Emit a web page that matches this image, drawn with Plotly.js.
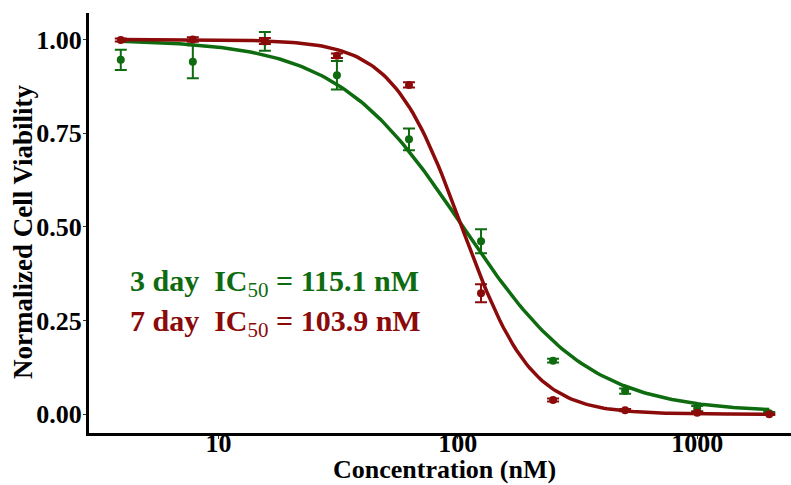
<!DOCTYPE html>
<html>
<head>
<meta charset="utf-8">
<script src="https://cdn.plot.ly/plotly-3.0.1.min.js"></script>
<style>html,body{margin:0;padding:0;background:#fff;}#chart{width:791px;height:485px;}</style>
</head>
<body>
<div id="chart"></div>
<script>
// Concentrations (nM)
const conc = [3.90625, 7.8125, 15.625, 31.25, 62.5, 125, 250, 500, 1000, 2000];
// 3 day
const day3Mean = [0.946, 0.941, 0.995, 0.905, 0.734, 0.462, 0.143, 0.062, 0.015, 0.003];
const day3Err  = [0.027, 0.044, 0.025, 0.038, 0.029, 0.032, 0.005, 0.007, 0.007, 0.003];
// 7 day
const day7Mean = [0.999, 1.000, 0.996, 0.957, 0.879, 0.323, 0.038, 0.011, 0.004, 0.000];
const day7Err  = [0.004, 0.006, 0.008, 0.006, 0.007, 0.024, 0.004, 0.003, 0.003, 0.002];
// fitted 4-parameter logistic parameters [top, bottom, EC50, hill]
const day3Fit = [1.0, 0.005, 104.5, 1.65];
const day7Fit = [1.0, 0.0, 103.9, 3.0];
const xTickVals = [10, 100, 1000];
const yTickVals = [0, 0.25, 0.5, 0.75, 1.0];
const yTickText = ['0.00', '0.25', '0.50', '0.75', '1.00'];
const xTitle = 'Concentration (nM)';
const yTitle = 'Normalized Cell Viability';
const label3 = '3 day\u00a0 IC<sub><span style="font-weight:normal">50</span></sub> = 115.1 nM';
const label7 = '7 day\u00a0 IC<sub><span style="font-weight:normal">50</span></sub> = 103.9 nM';

const GREEN = '#0f6b0f';
const RED = '#8b0a0a';

function curve(p) {
  const xs = [], ys = [];
  const lo = Math.log10(conc[0]), hi = Math.log10(conc[conc.length - 1]);
  for (let i = 0; i <= 200; i++) {
    const lx = lo + (hi - lo) * i / 200;
    const x = Math.pow(10, lx);
    xs.push(x);
    ys.push(p[1] + (p[0] - p[1]) / (1 + Math.pow(x / p[2], p[3])));
  }
  return {xs, ys};
}
const c3 = curve(day3Fit), c7 = curve(day7Fit);

const traces = [
  {x: c3.xs, y: c3.ys, mode: 'lines', line: {color: GREEN, width: 3.5}, hoverinfo: 'skip'},
  {x: c7.xs, y: c7.ys, mode: 'lines', line: {color: RED, width: 3.5}, hoverinfo: 'skip'},
  {x: conc, y: day3Mean, mode: 'markers', marker: {color: GREEN, size: 8},
   error_y: {type: 'data', array: day3Err, visible: true, color: GREEN, thickness: 2, width: 6}},
  {x: conc, y: day7Mean, mode: 'markers', marker: {color: RED, size: 8},
   error_y: {type: 'data', array: day7Err, visible: true, color: RED, thickness: 2, width: 6}}
];

const fontFam = '"Liberation Serif", "Times New Roman", serif';
const tickFont = {family: fontFam, size: 26, color: '#000', weight: 700};
const layout = {
  width: 791, height: 485,
  margin: {l: 89, r: 0, t: 13, b: 52},
  showlegend: false,
  paper_bgcolor: '#fff', plot_bgcolor: '#fff',
  font: {family: fontFam, color: '#000'},
  xaxis: {
    type: 'log', range: [0.459, 3.392],
    tickvals: xTickVals, ticktext: xTickVals.map(String),
    showgrid: false, zeroline: false,
    showline: true, linecolor: '#000', linewidth: 3,
    ticks: 'outside', ticklen: 3, tickwidth: 1, tickcolor: '#333',
    tickfont: tickFont, ticklabelstandoff: -18
  },
  yaxis: {
    range: [-0.05, 1.071],
    tickvals: yTickVals, ticktext: yTickText,
    showgrid: false, zeroline: false,
    showline: true, linecolor: '#000', linewidth: 3,
    ticks: 'outside', ticklen: 3, tickwidth: 1, tickcolor: '#333',
    tickfont: tickFont, ticklabelstandoff: -4
  },
  annotations: [
    {xref: 'paper', yref: 'y', x: 0.055, y: 0.351, xanchor: 'left', yanchor: 'middle', showarrow: false,
     text: label3, font: {family: fontFam, size: 30, color: GREEN, weight: 700}},
    {xref: 'paper', yref: 'y', x: 0.055, y: 0.244, xanchor: 'left', yanchor: 'middle', showarrow: false,
     text: label7, font: {family: fontFam, size: 30, color: RED, weight: 700}},
    {xref: 'paper', yref: 'paper', x: 0.507, y: -0.088, xanchor: 'center', yanchor: 'middle', showarrow: false,
     borderpad: 0, text: xTitle, font: {family: fontFam, size: 26, color: '#000', weight: 700}},
    {xref: 'paper', yref: 'paper', x: -0.094, y: 0.4786, xanchor: 'center', yanchor: 'middle', showarrow: false,
     textangle: -90, text: yTitle, font: {family: fontFam, size: 27, color: '#000', weight: 700}}
  ]
};
Plotly.newPlot('chart', traces, layout, {displayModeBar: false, staticPlot: true});
</script>
</body>
</html>
